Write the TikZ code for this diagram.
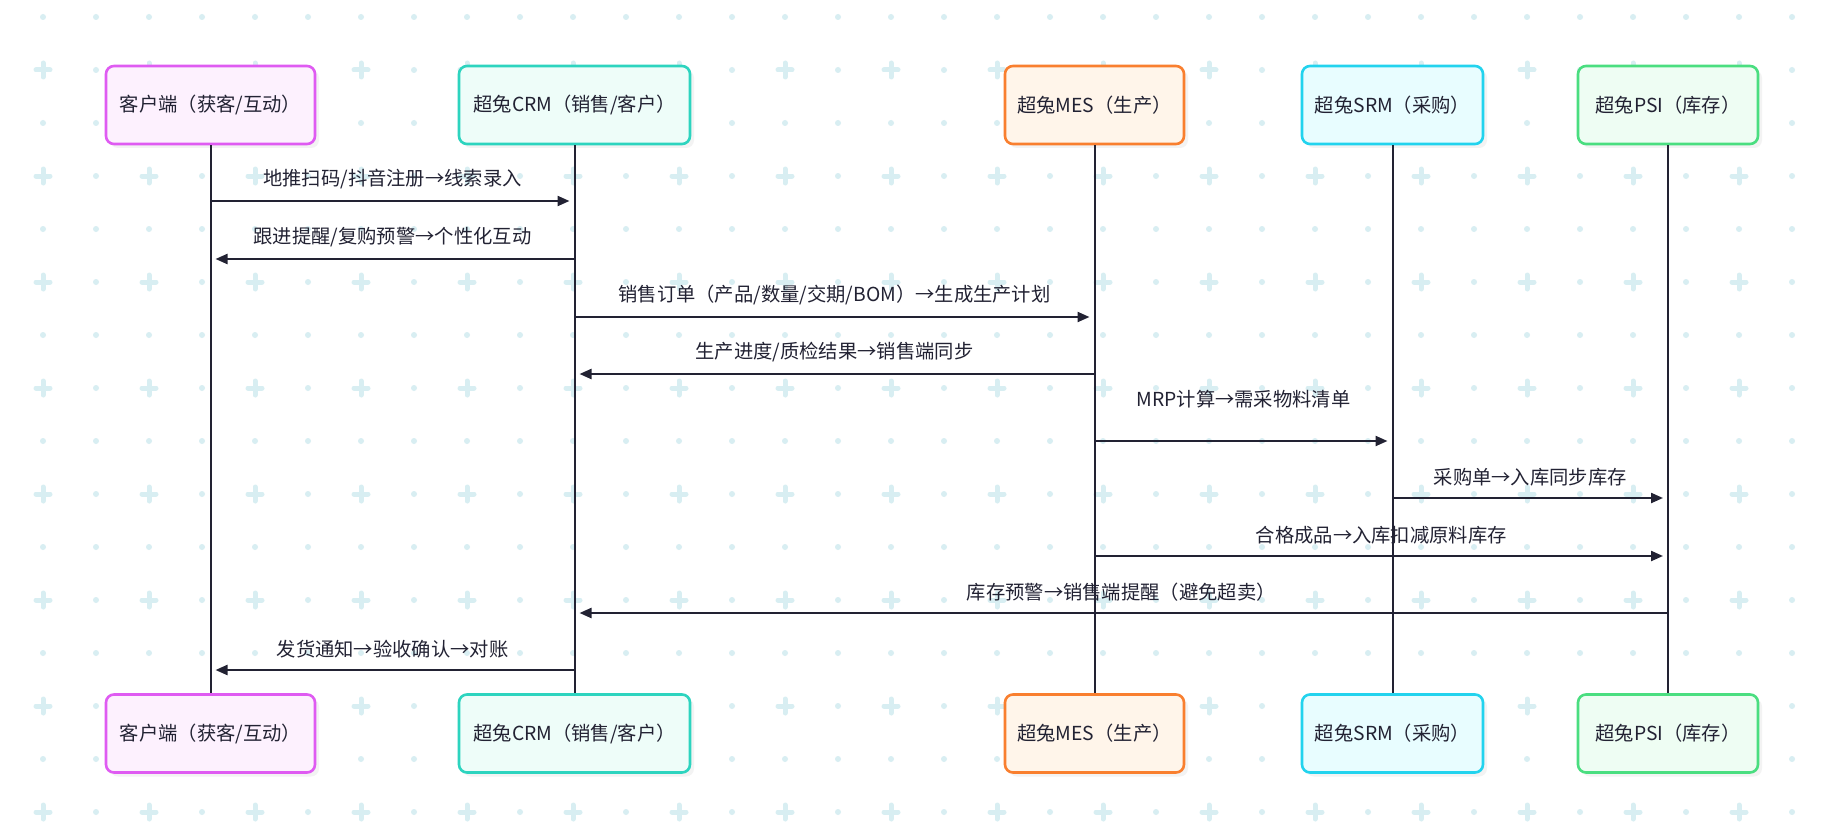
\documentclass[tikz,border=0pt]{standalone}
\usepackage{fontspec}
\setmainfont{Noto Sans CJK SC}
\usetikzlibrary{arrows.meta,shadows}
\definecolor{gridc}{HTML}{D8EEF2}
\definecolor{ink}{HTML}{222233}
\definecolor{custd}{HTML}{DF5BF2}\definecolor{custf}{HTML}{FDF1FE}
\definecolor{crmd}{HTML}{2DD4BF}\definecolor{crmf}{HTML}{EEFDF9}
\definecolor{mesd}{HTML}{F97F2F}\definecolor{mesf}{HTML}{FFF5EA}
\definecolor{srmd}{HTML}{22D3EE}\definecolor{srmf}{HTML}{E8FDFF}
\definecolor{psid}{HTML}{4ADE80}\definecolor{psif}{HTML}{EEFDF3}

\begin{document}
\begin{tikzpicture}[x=1pt, y=-1pt,
    actor/.style={draw=#1d, fill=#1f, line width=2.6pt, rounded corners=8pt,
      minimum height=78pt, inner sep=0pt, text=ink,
      font=\fontsize{19.3}{23}\selectfont,
      drop shadow={shadow xshift=4pt, shadow yshift=-4pt, fill=black!9}},
    life/.style={draw=ink, line width=2pt},
    msg/.style={draw=ink, line width=2.2pt, shorten >=5pt,
      -{Triangle[length=12pt, width=10pt]}},
    lbl/.style={text=ink, inner sep=0pt, above=11pt,
      font=\fontsize{19.3}{23}\selectfont},
    gridplus/.style={draw=gridc, line width=5pt, line cap=round}]
      \useasboundingbox (0,0) rectangle (1836,832);
      \fill[white] (0,0) rectangle (1836,832);
      % background grid
      \foreach \i in {0,...,33}{
        \foreach \j in {0,...,15}{
          \pgfmathtruncatemacro\isplus{(mod(\j,2)==1)&&(mod(\i,2)==0)}
          \ifnum\isplus=1
            \draw[gridplus] (43+53*\i,17+53*\j) ++(-7,0) -- ++(14,0) ++(-7,-7) -- ++(0,14);
          \else
            \fill[gridc] (43+53*\i,17+53*\j) circle (3pt);
          \fi
        }
      }

      \node[actor=cust, minimum width=209pt] (cust) at (210.5,105) {客户端（获客/互动）};
      \node[actor=crm, minimum width=231pt] (crm) at (574.5,105) {超兔CRM（销售/客户）};
      \node[actor=mes, minimum width=179pt] (mes) at (1094.5,105) {超兔MES（生产）};
      \node[actor=srm, minimum width=181pt] (srm) at (1392.5,105) {超兔SRM（采购）};
      \node[actor=psi, minimum width=180pt] (psi) at (1668,105) {超兔PSI（库存）};

      \node[actor=cust, minimum width=209pt] (custb) at (210.5,733.5) {客户端（获客/互动）};
      \node[actor=crm, minimum width=231pt] (crmb) at (574.5,733.5) {超兔CRM（销售/客户）};
      \node[actor=mes, minimum width=179pt] (mesb) at (1094.5,733.5) {超兔MES（生产）};
      \node[actor=srm, minimum width=181pt] (srmb) at (1392.5,733.5) {超兔SRM（采购）};
      \node[actor=psi, minimum width=180pt] (psib) at (1668,733.5) {超兔PSI（库存）};

      \draw[life] (cust.south) -- (custb.north);
      \draw[life] (crm.south) -- (crmb.north);
      \draw[life] (mes.south) -- (mesb.north);
      \draw[life] (srm.south) -- (srmb.north);
      \draw[life] (psi.south) -- (psib.north);

      \coordinate (m1) at (0,201);
      \coordinate (m2) at (0,259);
      \coordinate (m3) at (0,317);
      \coordinate (m4) at (0,374);
      \coordinate (m5) at (0,441);
      \coordinate (m6) at (0,498);
      \coordinate (m7) at (0,556);
      \coordinate (m8) at (0,613);
      \coordinate (m9) at (0,670);

      \draw[msg] (cust |- m1) -- node[lbl] (l1) {地推扫码/抖音注册→线索录入} (crm |- m1);
      \draw[msg] (crm |- m2) -- node[lbl] (l2) {跟进提醒/复购预警→个性化互动} (cust |- m2);
      \draw[msg] (crm |- m3) -- node[lbl] (l3) {销售订单（产品/数量/交期/BOM）→生成生产计划} (mes |- m3);
      \draw[msg] (mes |- m4) -- node[lbl] (l4) {生产进度/质检结果→销售端同步} (crm |- m4);
      \draw[msg] (mes |- m5) -- node[lbl, above=21pt] (l5) {MRP计算→需采物料清单} (srm |- m5);
      \draw[msg] (srm |- m6) -- node[lbl] (l6) {采购单→入库同步库存} (psi |- m6);
      \draw[msg] (mes |- m7) -- node[lbl] (l7) {合格成品→入库扣减原料库存} (psi |- m7);
      \draw[msg] (psi |- m8) -- node[lbl] (l8) {库存预警→销售端提醒（避免超卖）} (crm |- m8);
      \draw[msg] (crm |- m9) -- node[lbl] (l9) {发货通知→验收确认→对账} (cust |- m9);

    \end{tikzpicture}
\end{document}
